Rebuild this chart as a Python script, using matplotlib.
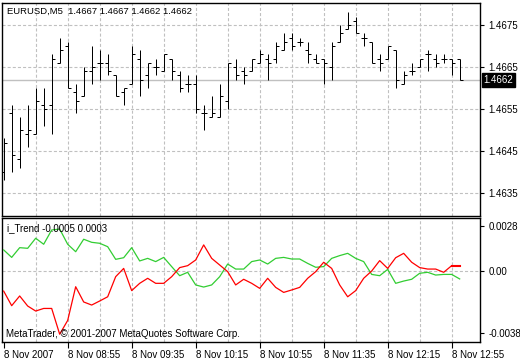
import numpy as np
import matplotlib
matplotlib.use('Agg')
import matplotlib.pyplot as plt
import matplotlib.transforms as mtransforms

plt.rcParams['font.family'] = ['Liberation Sans', 'DejaVu Sans']
plt.rcParams['font.size'] = 7
plt.rcParams['lines.scale_dashes'] = False

# =============================================================================
# data : EURUSD M5, 58 bars
# =============================================================================

opens = [1.4640, 1.4654, 1.4643, 1.4649, 1.4649, 1.4656, 1.4656, 1.4666, 1.4670, 1.4659,
         1.4658, 1.4664, 1.4666, 1.4666, 1.4663, 1.4659, 1.4661, 1.4667, 1.4663, 1.4665,
         1.4664, 1.4667, 1.4663, 1.4661, 1.4661, 1.4654, 1.4653, 1.4653, 1.4657, 1.4665,
         1.4664, 1.4664, 1.4666, 1.4667, 1.4667, 1.4669, 1.4672, 1.4671, 1.4669, 1.4667,
         1.4667, 1.4665, 1.4671, 1.4674, 1.4676, 1.4672, 1.4671, 1.4667, 1.4667, 1.4669,
         1.4661, 1.4664, 1.4665, 1.4668, 1.4667, 1.4667, 1.4667, 1.4667]
highs = [1.4648, 1.4656, 1.4653, 1.4656, 1.4660, 1.4660, 1.4668, 1.4672, 1.4671, 1.4661,
         1.4665, 1.4670, 1.4669, 1.4668, 1.4663, 1.4660, 1.4670, 1.4669, 1.4666, 1.4667,
         1.4668, 1.4667, 1.4664, 1.4663, 1.4663, 1.4656, 1.4658, 1.4661, 1.4666, 1.4667,
         1.4665, 1.4667, 1.4669, 1.4668, 1.4671, 1.4673, 1.4673, 1.4672, 1.4671, 1.4668,
         1.4667, 1.4671, 1.4675, 1.4678, 1.4677, 1.4673, 1.4671, 1.4668, 1.4670, 1.4669,
         1.4664, 1.4666, 1.4667, 1.4669, 1.4668, 1.4668, 1.4667, 1.4667]
lows = [1.4638, 1.4640, 1.4641, 1.4646, 1.4649, 1.4651, 1.4649, 1.4666, 1.4660, 1.4654,
        1.4658, 1.4661, 1.4662, 1.4663, 1.4658, 1.4656, 1.4661, 1.4658, 1.4660, 1.4663,
        1.4664, 1.4662, 1.4659, 1.4659, 1.4654, 1.4650, 1.4653, 1.4653, 1.4655, 1.4662,
        1.4661, 1.4664, 1.4666, 1.4662, 1.4666, 1.4669, 1.4669, 1.4670, 1.4666, 1.4666,
        1.4661, 1.4662, 1.4671, 1.4674, 1.4673, 1.4670, 1.4666, 1.4664, 1.4667, 1.4660,
        1.4661, 1.4663, 1.4665, 1.4664, 1.4665, 1.4666, 1.4663, 1.4662]
closes = [1.4647, 1.4644, 1.4650, 1.4650, 1.4657, 1.4655, 1.4667, 1.4669, 1.4660, 1.4657,
          1.4664, 1.4665, 1.4666, 1.4664, 1.4658, 1.4660, 1.4668, 1.4662, 1.4666, 1.4665,
          1.4668, 1.4664, 1.4660, 1.4661, 1.4655, 1.4654, 1.4654, 1.4658, 1.4666, 1.4663,
          1.4663, 1.4667, 1.4668, 1.4666, 1.4670, 1.4671, 1.4670, 1.4671, 1.4668, 1.4666,
          1.4666, 1.4670, 1.4673, 1.4675, 1.4673, 1.4672, 1.4666, 1.4666, 1.4670, 1.4662,
          1.4663, 1.4664, 1.4667, 1.4668, 1.4666, 1.4667, 1.4666, 1.4662]

# i_Trend buffers, in units of 1e-4
trend_green = [13.0, 8.4, 14.4, 14.0, 20.2, 16.5, 25.3, 25.9, 16.5, 11.9,
               19.6, 17.7, 17.1, 15.0, 7.2, 8.2, 14.4, 6.2, 7.8, 5.8,
               8.4, 2.7, -2.9, -0.8, -8.6, -9.9, -8.6, -3.5, 4.3, 1.2,
               1.2, 5.8, 6.8, 4.3, 7.8, 8.4, 7.4, 7.4, 4.7, 2.3,
               2.7, 7.8, 9.5, 10.9, 7.8, 5.8, -2.1, -2.9, 1.0, -7.6,
               -6.2, -5.1, -1.4, -0.8, -2.5, -2.1, -2.1, -4.9]
trend_red = [-12.4, -21.4, -15.4, -21.6, -24.7, -23.1, -23.1, -39.0, -30.5, -9.7,
             -19.1, -21.0, -18.5, -15.9, -3.5, 1.6, -12.1, -7.6, -4.5, -7.6,
             -7.6, -3.5, 2.1, 3.3, 6.8, 16.1, 7.8, 3.7, -0.4, -8.6,
             -5.1, -7.6, -10.7, -4.5, -10.1, -13.2, -11.7, -10.1, -4.5, -0.4,
             5.4, 1.6, -8.6, -15.9, -12.1, -4.5, 0.0, 6.4, 1.6, 8.2,
             10.9, 5.4, 2.1, 1.2, 1.2, -0.8, 3.3, 3.3]

price_ticks = [1.4635, 1.4645, 1.4655, 1.4665, 1.4675]
trend_ticks = [0.0028, 0.0, -0.0038]
trend_tick_labels = ['0.0028', '0.00', '-0.0038']
time_ticks = [0, 8, 16, 24, 32, 40, 48, 56]
time_labels = ['8 Nov 2007', '8 Nov 08:55', '8 Nov 09:35', '8 Nov 10:15',
               '8 Nov 10:55', '8 Nov 11:35', '8 Nov 12:15', '8 Nov 12:55']
last_price = 1.4662

# =============================================================================
# figure
# =============================================================================

W, H = 520, 360
fig = plt.figure(figsize=(W / 100, H / 100), dpi=100)
fig.patch.set_facecolor('white')


def box(l, t, r, b):
    return [l / W, 1 - b / H, (r - l) / W, (b - t) / H]


ax = fig.add_axes(box(2, 2.7, 480, 216))
ax2 = fig.add_axes(box(2, 218, 480, 342))

x = np.arange(len(opens))
green = np.array(trend_green) * 1e-4
red = np.array(trend_red) * 1e-4

grid_kw = dict(color='#c0c0c0', lw=0.8, dashes=(2.2, 1.5), zorder=0)

for a in (ax, ax2):
    a.set_xlim(-0.21, 59.54)
    for k in range(4, 60, 4):
        a.axvline(k, **grid_kw)
    for s in a.spines.values():
        s.set_color('black')
        s.set_linewidth(1.0)

# price panel
ax.set_ylim(1.462952, 1.468031)
for p in price_ticks:
    ax.axhline(p, **grid_kw)
ax.axhline(last_price, color='#c0c0c0', lw=1.0, zorder=1)

bar_kw = dict(color='black', lw=0.72, antialiased=True, zorder=3)
ax.vlines(x, lows, highs, **bar_kw)
ax.hlines(opens, x - 0.375, x, **bar_kw)
ax.hlines(closes, x, x + 0.375, **bar_kw)

ax.yaxis.tick_right()
ax.set_yticks(price_ticks)
ax.set_yticklabels(['%.4f' % p for p in price_ticks])
ax.tick_params(axis='y', direction='out', length=3, width=0.8, pad=3, labelsize=7)
ax.set_xticks([])

trans = mtransforms.blended_transform_factory(ax.transAxes, ax.transData)
ax.text(1 + 3.5 / 478, last_price, '%.4f' % last_price, transform=trans,
        color='white', fontsize=7, ha='left', va='center',
        bbox=dict(boxstyle='square,pad=0.2', fc='black', ec='black'))

# indicator panel
ax2.set_ylim(-0.00438, 0.00327)
ax2.axhline(0, **grid_kw)
ax2.plot(x, green, color='#32cd32', lw=0.9, zorder=3)
ax2.plot(x, red, color='#ff0000', lw=0.9, zorder=3)
ax2.plot(x[-2:], red[-2:], color='#ff0000', lw=1.5, zorder=3)

ax2.yaxis.tick_right()
ax2.set_yticks(trend_ticks)
ax2.set_yticklabels(trend_tick_labels)
ax2.tick_params(axis='y', direction='out', length=3, width=0.8, pad=3, labelsize=7)
ax2.set_xticks(time_ticks)
ax2.set_xticklabels(time_labels)
ax2.tick_params(axis='x', direction='out', length=4, width=0.8, pad=2, labelsize=7)
for lab in ax2.get_xticklabels():
    lab.set_ha('left')

# texts
fig.text(7 / W, 1 - 11 / H, 'EURUSD,M5  1.4667 1.4667 1.4662 1.4662',
         fontsize=6.8, va='center', ha='left')
fig.text(7 / W, 1 - 228.5 / H, 'i_Trend -0.0005 0.0003',
         fontsize=7, va='center', ha='left')
fig.text(6 / W, 1 - 334 / H, 'MetaTrader, \u00a9 2001-2007 MetaQuotes Software Corp.',
         fontsize=7, va='center', ha='left')

plt.savefig('out.png', dpi=100)
